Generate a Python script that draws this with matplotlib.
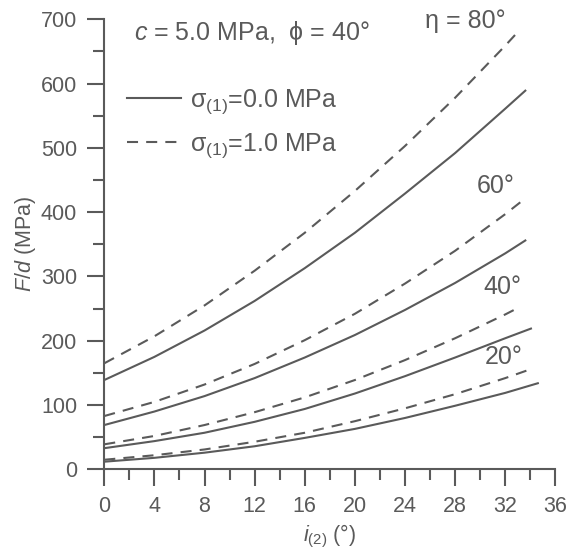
import numpy as np
import matplotlib.pyplot as plt
from matplotlib.ticker import MultipleLocator

plt.rcParams['font.family'] = ['Liberation Sans', 'DejaVu Sans']
plt.rcParams['mathtext.fontset'] = 'custom'
plt.rcParams['mathtext.rm'] = 'Liberation Sans'
plt.rcParams['mathtext.it'] = 'Liberation Sans:italic'

grey = '#5a5a5a'
fs = 15.5
fs_note = 18

# i(2) in degrees, F/d in MPa
i_sol = {
    20: [0, 4, 8, 12, 16, 20, 24, 28, 32, 34.6],
    40: [0, 4, 8, 12, 16, 20, 24, 28, 32, 34.05],
    60: [0, 4, 8, 12, 16, 20, 24, 28, 32, 33.6],
    80: [0, 4, 8, 12, 16, 20, 24, 28, 32, 33.6],
}
fd_sol = {
    20: [12, 18, 26, 36, 49, 63, 80, 99, 119, 134],
    40: [33, 44, 57, 74, 94, 118, 145, 174, 204, 219],
    60: [69, 90, 114, 142, 174, 209, 248, 290, 336, 356],
    80: [139, 175, 216, 262, 313, 368, 429, 492, 561, 589],
}
i_dash = {
    20: [0, 4, 8, 12, 16, 20, 24, 28, 32, 34.05],
    40: [0, 4, 8, 12, 16, 20, 24, 28, 32, 33.1],
    60: [0, 4, 8, 12, 16, 20, 24, 28, 32, 33.5],
    80: [0, 4, 8, 12, 16, 20, 24, 28, 32, 32.8],
}
fd_dash = {
    20: [15, 22, 31, 43, 57, 75, 95, 117, 142, 156],
    40: [39, 52, 69, 89, 112, 139, 170, 204, 241, 252],
    60: [83, 105, 132, 164, 201, 242, 289, 340, 397, 420],
    80: [165, 207, 255, 309, 368, 433, 503, 578, 659, 676],
}

eta_labels = {80: '\u03b7 = 80\u00b0', 60: '60\u00b0', 40: '40\u00b0', 20: '20\u00b0'}
eta_pos = {80: (28.8, 697), 60: (31.25, 440), 40: (31.8, 283), 20: (31.9, 175)}

fig = plt.figure(figsize=(5.68, 5.54), dpi=100)
ax = fig.add_axes([0.1836, 0.1527, 0.7942, 0.8125])

dash = (0, (5.3, 3.9))
for k, eta in enumerate([20, 40, 60, 80]):
    ax.plot(i_sol[eta], fd_sol[eta], color=grey, lw=1.5,
            label='\u03c3$_{(1)}$=0.0 MPa' if k == 0 else None)
    ax.plot(i_dash[eta], fd_dash[eta], color=grey, lw=1.5, linestyle=dash,
            label='\u03c3$_{(1)}$=1.0 MPa' if k == 0 else None)
    ax.text(*eta_pos[eta], eta_labels[eta], color=grey, fontsize=fs_note,
            ha='center', va='center')

ax.text(2.37, 678, '$\\mathit{c}$ = 5.0 MPa,  \u03d5 = 40\u00b0', color=grey,
        fontsize=fs_note, ha='left', va='center')

leg = ax.legend(loc='upper left', bbox_to_anchor=(0.05, 0.848), frameon=False,
                fontsize=fs_note, handlelength=2.16, handletextpad=0.36,
                labelspacing=0.58, borderpad=0, borderaxespad=0)
for t in leg.get_texts():
    t.set_color(grey)

ax.set_xlim(0, 36)
ax.set_ylim(0, 700)
ax.xaxis.set_major_locator(MultipleLocator(4))
ax.xaxis.set_minor_locator(MultipleLocator(2))
ax.yaxis.set_major_locator(MultipleLocator(100))
ax.yaxis.set_minor_locator(MultipleLocator(50))

for s in ['top', 'right']:
    ax.spines[s].set_visible(False)
for s in ['left', 'bottom']:
    ax.spines[s].set_color(grey)
    ax.spines[s].set_linewidth(1.5)

ax.tick_params(which='major', direction='out', length=12.5, width=1.5,
               color=grey, labelcolor=grey, labelsize=fs, pad=7)
ax.tick_params(which='minor', direction='out', length=8, width=1.5, color=grey)

ax.set_xlabel('$\\mathit{i}_{(2)}$ (\u00b0)', color=grey, fontsize=fs, labelpad=4)
ax.set_ylabel('$\\mathit{F/d}$ (MPa)', color=grey, fontsize=fs, labelpad=2)

fig.savefig('out.png', dpi=100)
